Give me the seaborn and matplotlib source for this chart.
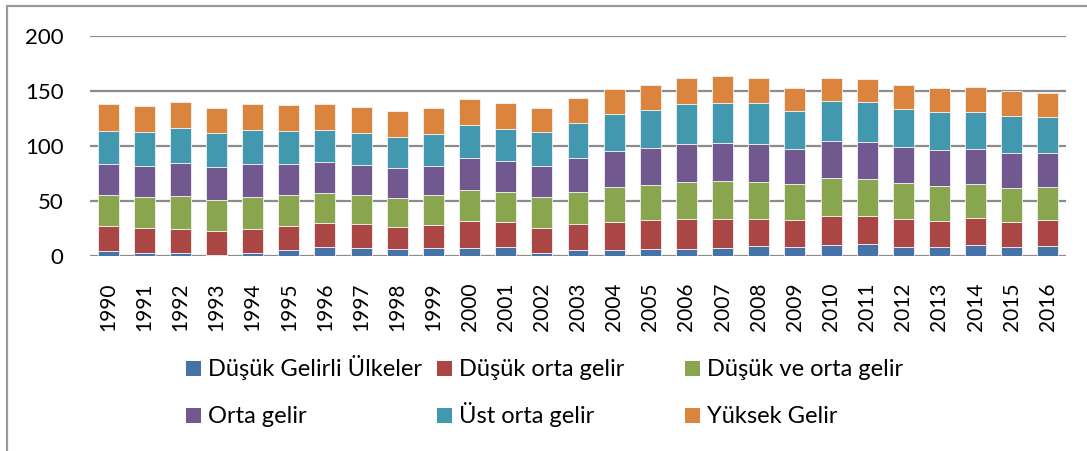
import numpy as np
import pandas as pd
import matplotlib
matplotlib.use("Agg")
import matplotlib.pyplot as plt
from matplotlib.patches import Rectangle
import seaborn as sns

years = [str(y) for y in range(1990, 2017)]

# segment values
dusuk_gelirli = [4.2, 3.0, 2.4, 1.2, 2.4, 5.4, 7.8, 6.9, 6.3, 7.5, 7.5, 8.1, 3.0, 5.4,
                 5.7, 6.0, 6.0, 7.5, 9.4, 8.5, 9.7, 11.2, 8.5, 8.5, 10.3, 8.5, 9.4]
dusuk_orta = [23.3, 22.4, 22.0, 21.4, 22.4, 22.1, 21.8, 21.8, 20.3, 20.9, 24.5, 22.4, 22.4, 23.6,
              25.4, 26.3, 27.5, 26.3, 24.4, 24.4, 27.1, 25.6, 24.7, 23.5, 24.1, 22.6, 23.2]
dusuk_ve_orta = [28.0, 28.3, 30.2, 28.7, 29.2, 28.0, 27.7, 27.1, 26.5, 26.8, 28.4, 27.8, 28.0, 29.6,
                 32.0, 32.6, 34.1, 34.4, 33.8, 32.6, 34.4, 33.5, 32.9, 32.0, 31.4, 31.1, 30.2]
orta = [28.1, 28.1, 29.6, 29.3, 29.3, 27.8, 27.8, 26.9, 26.6, 26.6, 28.6, 28.0, 28.4, 30.4,
        32.0, 33.2, 34.4, 34.4, 34.1, 32.0, 33.5, 33.2, 32.9, 32.3, 31.4, 31.4, 30.5]
ust_orta = [29.6, 30.8, 32.3, 31.1, 31.4, 30.2, 29.6, 29.0, 28.4, 29.0, 30.2, 29.6, 30.5, 32.3,
            33.8, 34.4, 36.2, 36.8, 37.1, 34.7, 36.0, 36.3, 35.0, 34.4, 34.1, 34.1, 32.9]
yuksek = [24.8, 23.8, 23.5, 22.9, 23.8, 24.1, 23.8, 24.1, 24.1, 23.8, 23.9, 22.9, 22.3, 22.1,
          22.9, 23.2, 23.6, 23.9, 22.7, 20.2, 21.1, 21.4, 21.1, 21.7, 22.3, 22.3, 22.0]

series_names = ["Düşük Gelirli Ülkeler", "Düşük orta gelir", "Düşük ve orta gelir",
                "Orta gelir", "Üst orta gelir", "Yüksek Gelir"]
series_vals = [dusuk_gelirli, dusuk_orta, dusuk_ve_orta, orta, ust_orta, yuksek]
colors = ["#4572A7", "#AA4643", "#89A54E", "#71588F", "#4198AF", "#DB843D"]

sns.set_theme(style="white")
plt.rcParams["font.family"] = ["Lato", "DejaVu Sans"]

W, H = 1087, 451
fig = plt.figure(figsize=(W / 100, H / 100), dpi=100)
ax = fig.add_axes([90 / W, 1 - 256 / H, 976 / W, 220 / H])

bottom = np.zeros(len(years))
for name, vals, c in zip(series_names, series_vals, colors):
    df = pd.DataFrame({"year": years, "value": vals})
    sns.barplot(data=df, x="year", y="value", color=c, bottom=bottom, width=0.58,
                errorbar=None, saturation=1, edgecolor="#f2f2f2", linewidth=0.6, ax=ax)
    bottom += np.array(vals)

ax.set_ylim(0, 200)
ax.set_xlim(-0.5, len(years) - 0.5)
ax.set_yticks([0, 50, 100, 150, 200])
ax.yaxis.grid(True, color="#8c8c8c", linewidth=1.6)
ax.set_axisbelow(True)
for s in ax.spines.values():
    s.set_visible(False)
ax.set_xlabel("")
ax.set_ylabel("")
ax.tick_params(axis="y", length=0, pad=19, labelsize=16, labelcolor="black")
ax.tick_params(axis="x", length=0, pad=19, labelsize=15, labelcolor="black", rotation=90)

# legend laid out like the original: 3 columns x 2 rows, square + label
legend_x = [186, 437, 685, 186, 437, 685]
legend_base = [376, 376, 376, 423, 423, 423]
sq = 15
for name, c, lx, ly in zip(series_names, colors, legend_x, legend_base):
    fig.add_artist(Rectangle((lx / W, 1 - ly / H), sq / W, sq / H,
                             transform=fig.transFigure, facecolor=c, edgecolor="none"))
    fig.text((lx + sq + 7) / W, 1 - ly / H, name, fontsize=17, color="black",
             ha="left", va="baseline")

fig.add_artist(Rectangle((7 / W, -0.1), 1.2, 1 - 6 / H + 0.1,
                         transform=fig.transFigure, fill=False,
                         edgecolor="#9a9a9a", linewidth=1.6))

fig.savefig("out.png", dpi=100)
